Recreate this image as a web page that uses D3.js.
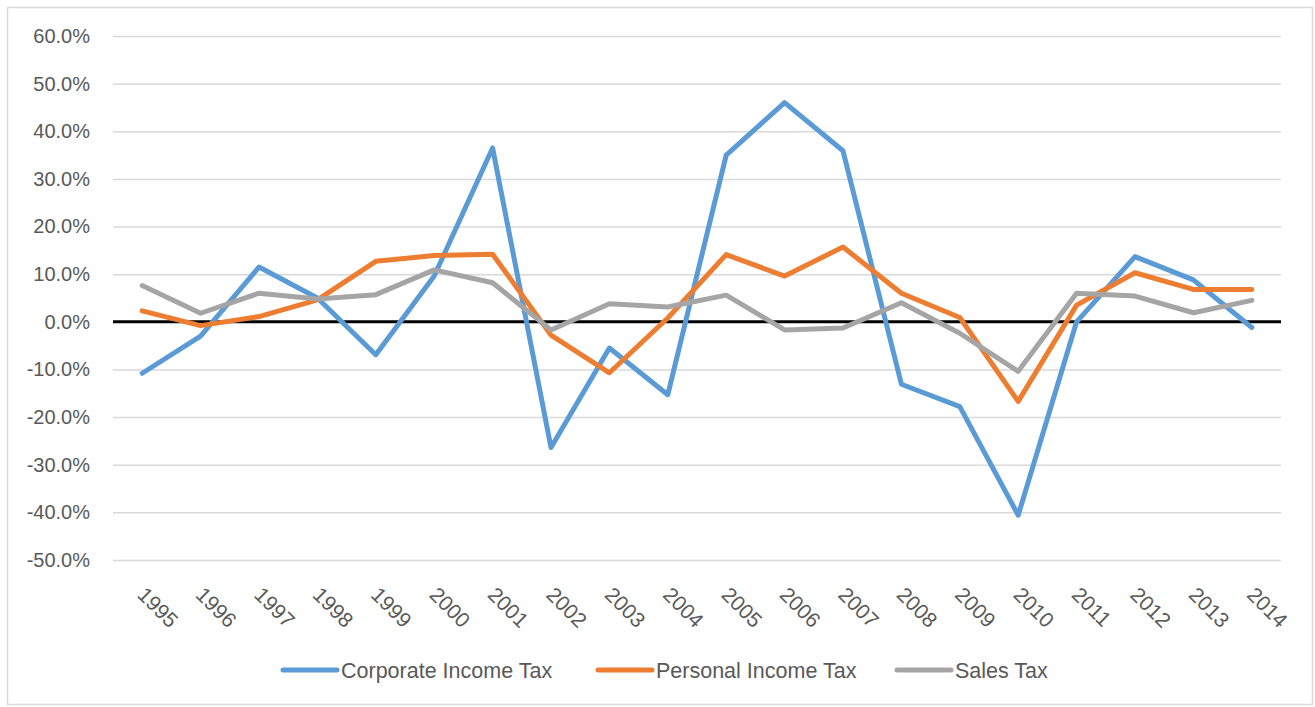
<!DOCTYPE html>
<html>
<head>
<meta charset="utf-8">
<script src="https://cdn.jsdelivr.net/npm/d3@7"></script>
<style>
    body { margin: 0; background: #fff; }
    text { font-family: "Liberation Sans", Arial, sans-serif; fill: #595959; }
</style>
</head>
<body>
<div id="chart"></div>
<script>
const years = ['1995', '1996', '1997', '1998', '1999', '2000', '2001', '2002', '2003', '2004',
    '2005', '2006', '2007', '2008', '2009', '2010', '2011', '2012', '2013', '2014'];

const corporateTax = [-10.8, -3.0, 11.5, 5.0, -6.9, 9.6, 36.5, -26.4, -5.5, -15.3,
    35.0, 46.0, 35.9, -13.1, -17.8, -40.6, 0.0, 13.7, 8.8, -1.2];
const personalTax = [2.3, -0.8, 1.1, 4.6, 12.7, 13.9, 14.2, -2.8, -10.7, 0.8,
    14.1, 9.6, 15.7, 6.0, 0.9, -16.7, 3.5, 10.3, 6.8, 6.8];
const salesTax = [7.6, 1.8, 6.0, 4.8, 5.7, 10.9, 8.2, -1.7, 3.8, 3.1,
    5.6, -1.7, -1.3, 4.0, -2.4, -10.4, 6.0, 5.4, 1.9, 4.5];

const yTicks = [60, 50, 40, 30, 20, 10, 0, -10, -20, -30, -40, -50];

const series = [
    {name: 'Corporate Income Tax', values: corporateTax, color: '#5b9bd5'},
    {name: 'Personal Income Tax', values: personalTax, color: '#ed7d31'},
    {name: 'Sales Tax', values: salesTax, color: '#a5a5a5'}
];

const W = 1315, H = 707;
const plot = {left: 113, right: 1281, top: 36, bottom: 560};

const svg = d3.select('#chart')
    .append('svg')
    .attr('width', W)
    .attr('height', H);

// chart border
svg.append('rect')
    .attr('x', 7.5)
    .attr('y', 7.5)
    .attr('width', 1305)
    .attr('height', 697)
    .attr('fill', 'none')
    .attr('stroke', '#d9d9d9')
    .attr('stroke-width', 1.5);

const x = d3.scaleBand()
    .domain(years)
    .range([plot.left, plot.right]);

const y = d3.scaleLinear()
    .domain([-50, 60])
    .range([plot.bottom, plot.top]);

// Gridlines + y labels
const yAxis = svg.append('g')
    .attr('transform', `translate(${plot.left},0)`)
    .call(d3.axisLeft(y)
        .tickValues(yTicks)
        .tickSize(-(plot.right - plot.left))
        .tickPadding(23)
        .tickFormat(d => d.toFixed(1) + '%'));

yAxis.select('.domain').remove();
yAxis.selectAll('.tick line')
    .attr('stroke', '#d9d9d9')
    .attr('stroke-width', 1.5);
yAxis.selectAll('.tick text')
    .style('font-size', '20px')
    .attr('fill', '#595959');

// zero line
svg.append('line')
    .attr('x1', plot.left)
    .attr('x2', plot.right)
    .attr('y1', y(0))
    .attr('y2', y(0))
    .attr('stroke', '#000')
    .attr('stroke-width', 3);

// x labels, rotated
svg.append('g')
    .selectAll('text')
    .data(years)
    .enter()
    .append('text')
    .attr('transform', d => `translate(${x(d) + x.bandwidth() / 2 - 6},596) rotate(45)`)
    .attr('text-anchor', 'start')
    .style('font-size', '21px')
    .text(d => d);

// Lines
const line = d3.line()
    .x((d, i) => x(years[i]) + x.bandwidth() / 2)
    .y(d => y(d));

series.forEach(s => {
    svg.append('path')
        .datum(s.values)
        .attr('fill', 'none')
        .attr('stroke', s.color)
        .attr('stroke-width', 5)
        .attr('stroke-linejoin', 'round')
        .attr('stroke-linecap', 'round')
        .attr('d', line);
});

// Legend
const legendX = [283, 598, 897];
const legend = svg.append('g');
series.forEach((s, i) => {
    legend.append('line')
        .attr('x1', legendX[i])
        .attr('x2', legendX[i] + 54)
        .attr('y1', 670)
        .attr('y2', 670)
        .attr('stroke', s.color)
        .attr('stroke-width', 5)
        .attr('stroke-linecap', 'round');
    legend.append('text')
        .attr('x', legendX[i] + 58)
        .attr('y', 670)
        .attr('dy', '0.35em')
        .style('font-size', '21.5px')
        .text(s.name);
});
</script>
</body>
</html>
